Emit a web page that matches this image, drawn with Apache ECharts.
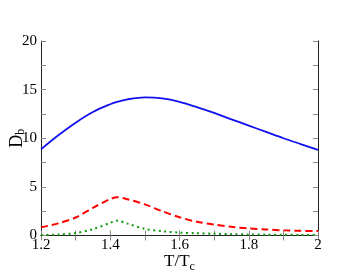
<!DOCTYPE html>
<html>
<head>
<meta charset="utf-8">
<script src="https://cdn.jsdelivr.net/npm/echarts@6/dist/echarts.min.js"></script>
<style>html,body{margin:0;padding:0;background:#fff}#c{width:358px;height:277px}</style>
</head>
<body>
<div id="c"></div>
<script>
const T = [1.20,1.25,1.30,1.35,1.40,1.42,1.45,1.50,1.55,1.60,1.65,1.70,1.75,1.80,1.85,1.90,1.95,2.00];
const blue = [8.86,10.3,11.6,12.7,13.5,13.75,14.0,14.2,14.1,13.75,13.2,12.6,11.95,11.3,10.65,10.0,9.4,8.8];
const red = [0.84,1.25,1.85,2.85,3.75,3.93,3.72,3.2,2.5,1.87,1.42,1.13,0.9,0.73,0.62,0.53,0.48,0.45];
const green = [0.05,0.1,0.25,0.65,1.3,1.52,1.22,0.68,0.44,0.3,0.23,0.18,0.14,0.11,0.09,0.07,0.06,0.05];
const xTicks = ['1.2','1.4','1.6','1.8','2'];
const yTicks = ['0','5','10','15','20'];

const font = '"Liberation Serif", "DejaVu Serif", serif';
const pairs = a => T.map((t,i)=>[t,a[i]]);
const chart = echarts.init(document.getElementById('c'), null, {renderer:'canvas'});
const axisCommon = {
  axisLine:{show:true, lineStyle:{color:'#222', width:1}},
  axisTick:{show:true, inside:true, length:5, lineStyle:{color:'#888'}},
  minorTick:{show:true, splitNumber:2, length:5, lineStyle:{color:'#888'}},
  splitLine:{show:false}
};
chart.setOption({
  animation:false,
  grid:{left:41, top:41, right:40, bottom:41.5, containLabel:false, outerBoundsMode:'none'},
  xAxis:[
    Object.assign({type:'value', min:1.2, max:2.0, interval:0.2, position:'bottom',
      axisLabel:{fontFamily:font, fontSize:15, color:'#000', margin:2,
        formatter:v=>xTicks[Math.round((v-1.2)/0.2)]},
      name:'{m|T/T}{s|c}', nameLocation:'middle', nameGap:15, nameMoveOverlap:false,
      nameTextStyle:{rich:{m:{fontFamily:font, fontSize:17, color:'#000'}, s:{fontFamily:font, fontSize:12, color:'#000', verticalAlign:'bottom', padding:[10,0,0,0]}}}
    }, axisCommon),
    Object.assign({type:'value', min:1.2, max:2.0, interval:0.2, position:'top', axisLabel:{show:false}}, axisCommon)
  ],
  yAxis:[
    Object.assign({type:'value', min:0, max:20, interval:5, position:'left',
      axisLabel:{fontFamily:font, fontSize:15, color:'#000', margin:4,
        formatter:v=>yTicks[Math.round(v/5)]},
      name:'{m|D}{s|b}', nameLocation:'middle', nameGap:14, nameMoveOverlap:false,
      nameTextStyle:{rich:{m:{fontFamily:font, fontSize:18, color:'#000'}, s:{fontFamily:font, fontSize:12, color:'#000', padding:[8,0,0,0]}}}
    }, axisCommon),
    Object.assign({type:'value', min:0, max:20, interval:5, position:'right', axisLabel:{show:false}}, axisCommon)
  ],
  series:[
    {type:'line', data:pairs(blue), smooth:0.3, showSymbol:false, lineStyle:{color:'#1010f0', width:1.8}},
    {type:'line', data:pairs(red), smooth:0.3, showSymbol:false, lineStyle:{color:'#ff0000', width:2, type:[7,4]}},
    {type:'line', data:pairs(green), smooth:0.3, showSymbol:false, lineStyle:{color:'#119911', width:2, type:[2,3.5]}}
  ]
});
</script>
</body>
</html>
